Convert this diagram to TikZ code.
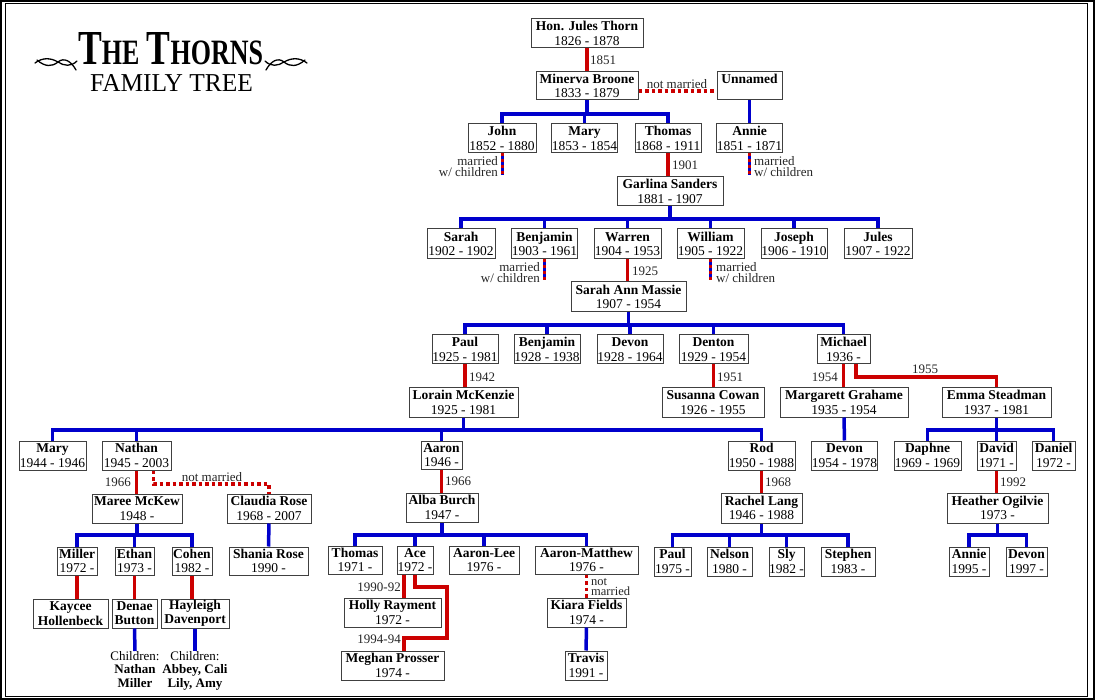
\documentclass[tikz,border=0pt]{standalone}
\usepackage{fontspec}
\setmainfont{Liberation Serif}
\usepackage{graphicx}
\definecolor{tblue}{HTML}{0000CC}
\definecolor{tred}{HTML}{CC0000}
\tikzset{
 pbox/.style={draw=black!75, line width=1pt, fill=white, inner sep=0pt, align=center, font=\fontsize{13.5}{14.3}\selectfont},
 bl/.style={draw=tblue, line width=3.5pt, line join=miter},
 rl/.style={draw=tred, line width=3.5pt, line join=miter},
 nm/.style={draw=tred, line width=3.5pt, dash pattern=on 3.5pt off 3pt},
 mwc/.style={draw=tblue, line width=3pt, postaction={draw=tred, dash pattern=on 3pt off 3pt}},
 lbl/.style={inner sep=0pt, align=center, font=\fontsize{13}{11}\selectfont, text=black!85},
 note/.style={anchor=north, inner sep=0pt, align=center, font=\fontsize{13}{13.5}\selectfont},
 flour/.style={line width=1.3pt, line cap=round},
}
\newcommand\persbox[6]{\node[pbox, minimum width={#4-#2}, minimum height={#5-#3}] (#1) at ({(#2+#4)/2},{(#3+#5)/2}) {#6};}
\newcommand\flourpath{%
 \draw[flour] (35,63) .. controls (43,57) and (51,58) .. (58,62) .. controls (64,66) and (71,67) .. (77,61);
 \draw[flour] (37,60) .. controls (45,67) and (52,67) .. (58,62) .. controls (64,57) and (71,61) .. (76,70);
}
\begin{document}
\begin{tikzpicture}[x=1pt,y=-1pt]
\useasboundingbox (0,0) rectangle (1095,700);
\fill[white] (0,0) rectangle (1095,700);
\draw[line width=2pt] (1,1) rectangle (1094,699);
\draw[line width=1.2pt] (5.3,3.8) rectangle (1087.5,696.5);

% title
\node[inner sep=0pt, anchor=base] (title1) at (170.5,65) {\resizebox{185pt}{32pt}{\bfseries\fontsize{48}{48}\selectfont T\fontsize{35}{35}\selectfont HE\fontsize{40}{40}\selectfont\ \fontsize{48}{48}\selectfont T\fontsize{35}{35}\selectfont HORNS}};
\node[inner sep=0pt, anchor=base] (title2) at (171.5,92) {\resizebox{163pt}{17pt}{\fontsize{26}{26}\selectfont FAMILY TREE}};
\flourpath
\begin{scope}[shift={(342,0)},xscale=-1]
\flourpath
\end{scope}

% people
\persbox{jules}{531}{19}{643}{48}{\textbf{Hon. Jules Thorn}\\1826 - 1878}
\persbox{minerva}{536}{72}{638}{100}{\textbf{Minerva Broone}\\1833 - 1879}
\persbox{unnamed}{717}{72}{782}{100}{\textbf{Unnamed}\\\phantom{1}}
\persbox{john}{468}{124}{536}{153}{\textbf{John}\\1852 - 1880}
\persbox{mary1}{552}{124}{617}{153}{\textbf{Mary}\\1853 - 1854}
\persbox{thomas}{635}{124}{701}{153}{\textbf{Thomas}\\1868 - 1911}
\persbox{annie1}{717}{124}{782}{153}{\textbf{Annie}\\1851 - 1871}
\persbox{garlina}{617}{177}{723}{206}{\textbf{Garlina Sanders}\\1881 - 1907}
\persbox{sarah}{427}{229}{495}{259}{\textbf{Sarah}\\1902 - 1902}
\persbox{benjamin1}{512}{229}{577}{259}{\textbf{Benjamin}\\1903 - 1961}
\persbox{warren}{594}{229}{661}{259}{\textbf{Warren}\\1904 - 1953}
\persbox{william}{677}{229}{744}{259}{\textbf{William}\\1905 - 1922}
\persbox{joseph}{761}{229}{827}{259}{\textbf{Joseph}\\1906 - 1910}
\persbox{jules2}{844}{229}{912}{259}{\textbf{Jules}\\1907 - 1922}
\persbox{sarahann}{571}{282}{686}{312}{\textbf{Sarah Ann Massie}\\1907 - 1954}
\persbox{paul1}{432}{335}{498}{364}{\textbf{Paul}\\1925 - 1981}
\persbox{benjamin2}{514}{335}{580}{364}{\textbf{Benjamin}\\1928 - 1938}
\persbox{devon1}{597}{335}{663}{364}{\textbf{Devon}\\1928 - 1964}
\persbox{denton}{679}{335}{748}{364}{\textbf{Denton}\\1929 - 1954}
\persbox{michael}{817}{335}{870}{364}{\textbf{Michael}\\1936 -}
\persbox{lorain}{409}{388}{518}{417}{\textbf{Lorain McKenzie}\\1925 - 1981}
\persbox{susanna}{662}{388}{764}{417}{\textbf{Susanna Cowan}\\1926 - 1955}
\persbox{margarett}{780}{388}{908}{417}{\textbf{Margarett Grahame}\\1935 - 1954}
\persbox{emma}{942}{388}{1051}{417}{\textbf{Emma Steadman}\\1937 - 1981}
\persbox{mary2}{19}{441}{86}{470}{\textbf{Mary}\\1944 - 1946}
\persbox{nathan}{102}{441}{171}{470}{\textbf{Nathan}\\1945 - 2003}
\persbox{aaron}{421}{441}{462}{469}{\textbf{Aaron}\\1946 -}
\persbox{rod}{728}{441}{795}{470}{\textbf{Rod}\\1950 - 1988}
\persbox{devon2}{812}{441}{877}{470}{\textbf{Devon}\\1954 - 1978}
\persbox{daphne}{894}{441}{961}{470}{\textbf{Daphne}\\1969 - 1969}
\persbox{david}{977}{441}{1016}{470}{\textbf{David}\\1971 -}
\persbox{daniel}{1032}{441}{1075}{470}{\textbf{Daniel}\\1972 -}
\persbox{maree}{92}{494}{182}{523}{\textbf{Maree McKew}\\1948 -}
\persbox{claudia}{227}{494}{311}{523}{\textbf{Claudia Rose}\\1968 - 2007}
\persbox{alba}{406}{493}{478}{522}{\textbf{Alba Burch}\\1947 -}
\persbox{rachel}{721}{493}{802}{523}{\textbf{Rachel Lang}\\1946 - 1988}
\persbox{heather}{947}{493}{1048}{523}{\textbf{Heather Ogilvie}\\1973 -}
\persbox{miller}{57}{547}{97}{575}{\textbf{Miller}\\1972 -}
\persbox{ethan}{115}{547}{154}{575}{\textbf{Ethan}\\1973 -}
\persbox{cohen}{172}{547}{212}{575}{\textbf{Cohen}\\1982 -}
\persbox{shania}{229}{547}{308}{575}{\textbf{Shania Rose}\\1990 -}
\persbox{thomas2}{328}{546}{382}{574}{\textbf{Thomas}\\1971 -}
\persbox{ace}{397}{546}{433}{574}{\textbf{Ace}\\1972 -}
\persbox{aaronlee}{449}{546}{519}{574}{\textbf{Aaron-Lee}\\1976 -}
\persbox{aaronm}{535}{546}{638}{574}{\textbf{Aaron-Matthew}\\1976 -}
\persbox{paul2}{654}{547}{691}{576}{\textbf{Paul}\\1975 -}
\persbox{nelson}{707}{547}{752}{576}{\textbf{Nelson}\\1980 -}
\persbox{sly}{769}{547}{804}{576}{\textbf{Sly}\\1982 -}
\persbox{stephen}{821}{547}{875}{576}{\textbf{Stephen}\\1983 -}
\persbox{annie2}{949}{547}{989}{576}{\textbf{Annie}\\1995 -}
\persbox{devon3}{1006}{547}{1047}{576}{\textbf{Devon}\\1997 -}
\persbox{kaycee}{33}{599}{108}{628}{\textbf{Kaycee}\\\textbf{Hollenbeck}}
\persbox{denae}{112}{599}{157}{628}{\textbf{Denae}\\\textbf{Button}}
\persbox{hayleigh}{161}{599}{229}{628}{\textbf{Hayleigh}\\\textbf{Davenport}}
\persbox{holly}{344}{598}{441}{627}{\textbf{Holly Rayment}\\1972 -}
\persbox{kiara}{547}{598}{626}{627}{\textbf{Kiara Fields}\\1974 -}
\persbox{meghan}{341}{651}{444}{680}{\textbf{Meghan Prosser}\\1974 -}
\persbox{travis}{565}{651}{607}{680}{\textbf{Travis}\\1991 -}

\node[note] (dnote) at (135,651) {Children:\\\textbf{Nathan}\\\textbf{Miller}};
\node[note] (hnote) at (195,651) {Children:\\\textbf{Abbey, Cali}\\\textbf{Lily, Amy}};

% bar levels
\coordinate (b1) at (0,114);
\coordinate (b2) at (0,219);
\coordinate (b3) at (0,325);
\coordinate (b4) at (0,430);
\coordinate (b6) at (0,535);
\coordinate (my) at (0,377);
\coordinate (nmy) at (0,484);

% blue: parents to children
\draw[bl] (minerva.south) -- (minerva.south |- b1);
\draw[bl] (john.north) |- (thomas.north |- b1) -- (thomas.north);
\draw[bl] (mary1.north) -- (mary1.north |- b1);
\draw[bl] (unnamed.south) -- (annie1.north);

\draw[bl] (garlina.south) -- (garlina.south |- b2);
\draw[bl] (sarah.north) |- (jules2.north |- b2) -- (jules2.north);
\foreach \n in {benjamin1,warren,william,joseph} \draw[bl] (\n.north) -- (\n.north |- b2);

\draw[bl] (sarahann.south) -- (sarahann.south |- b3);
\draw[bl] (paul1.north) |- (michael.north |- b3) -- (michael.north);
\foreach \n in {benjamin2,devon1,denton} \draw[bl] (\n.north) -- (\n.north |- b3);

\draw[bl] (lorain.south) -- (lorain.south |- b4);
\draw[bl] (mary2.north) |- (rod.north |- b4) -- (rod.north);
\foreach \n in {nathan,aaron} \draw[bl] (\n.north) -- (\n.north |- b4);

\draw[bl] (margarett.south) -- (devon2.north);
\draw[bl] (emma.south) -- (emma.south |- b4);
\draw[bl] (daphne.north) |- (daniel.north |- b4) -- (daniel.north);
\draw[bl] (david.north) -- (david.north |- b4);

\draw[bl] (maree.south) -- (maree.south |- b6);
\draw[bl] (miller.north) |- (cohen.north |- b6) -- (cohen.north);
\draw[bl] (ethan.north) -- (ethan.north |- b6);
\draw[bl] (claudia.south) -- (shania.north);

\draw[bl] (alba.south) -- (alba.south |- b6);
\draw[bl] (thomas2.north) |- (aaronm.north |- b6) -- (aaronm.north);
\foreach \n in {ace,aaronlee} \draw[bl] (\n.north) -- (\n.north |- b6);

\draw[bl] (rachel.south) -- (rachel.south |- b6);
\draw[bl] (paul2.north) |- (stephen.north |- b6) -- (stephen.north);
\foreach \n in {nelson,sly} \draw[bl] (\n.north) -- (\n.north |- b6);

\draw[bl] (heather.south) -- (heather.south |- b6);
\draw[bl] (annie2.north) |- (devon3.north |- b6) -- (devon3.north);

\draw[bl] (kiara.south) -- (travis.north);
\draw[bl] (denae.south) -- (dnote.north);
\draw[bl] (hayleigh.south) -- (hnote.north);

% red: marriages
\draw[rl] (jules.south) -- (minerva.north);
\draw[rl] (thomas.south) -- (thomas.south |- garlina.north);
\draw[rl] (warren.south) -- (warren.south |- sarahann.north);
\draw[rl] (paul1.south) -- (paul1.south |- lorain.north);
\draw[rl] (denton.south) -- (denton.south |- susanna.north);
\draw[rl] (michael.south) -- (michael.south |- margarett.north);
\draw[rl] ([xshift=12.5pt]michael.south) |- (emma.north |- my) -- (emma.north);
\draw[rl] (nathan.south) -- (nathan.south |- maree.north);
\draw[rl] (aaron.south) -- (aaron.south |- alba.north);
\draw[rl] (rod.south) -- (rod.south |- rachel.north);
\draw[rl] (david.south) -- (david.south |- heather.north);
\draw[rl] (miller.south) -- (miller.south |- kaycee.north);
\draw[rl] (ethan.south) -- (ethan.south |- denae.north);
\draw[rl] (cohen.south) -- (cohen.south |- hayleigh.north);
\coordinate (acel) at ([xshift=-11pt]ace.south);
\draw[rl] (acel) -- (acel |- holly.north);
\coordinate (ac1) at (447,587);
\coordinate (ac2) at (447,638);
\draw[rl] (ace.south) |- (ac1) -- (ac2) -| (acel |- meghan.north);

% dotted: not married
\draw[nm] ([yshift=-5pt]minerva.east) -- ([yshift=-5pt]unnamed.west);
\draw[nm] ([xshift=17pt]nathan.south) |- (claudia.north |- nmy) -- (claudia.north);
\draw[nm] (aaronm.south) -- (aaronm.south |- kiara.north);

% married with children
\coordinate (e1) at ([yshift=-22pt]john.south);
\coordinate (e2) at ([yshift=-22pt]annie1.south);
\coordinate (e3) at ([yshift=-21pt]benjamin1.south);
\coordinate (e4) at ([yshift=-21pt]william.south);
\draw[mwc] (john.south) -- (e1);
\draw[mwc] (annie1.south) -- (e2);
\draw[mwc] (benjamin1.south) -- (e3);
\draw[mwc] (william.south) -- (e4);

% labels
\node[lbl, anchor=west] (l1) at (590,60) {1851};
\node[lbl] (l2) at (677,84) {not married};
\node[lbl, anchor=east, align=right] (l3) at (498,167) {married\\w/ children};
\node[lbl, anchor=west, align=left] (l4) at (754,167) {married\\w/ children};
\node[lbl, anchor=west] (l5) at (672,165) {1901};
\node[lbl, anchor=east, align=right] (l6) at (540,273) {married\\w/ children};
\node[lbl, anchor=west, align=left] (l7) at (716,273) {married\\w/ children};
\node[lbl, anchor=west] (l8) at (632,271) {1925};
\node[lbl, anchor=west] (l9) at (469,377) {1942};
\node[lbl, anchor=west] (l10) at (717,377) {1951};
\node[lbl, anchor=east] (l11) at (838,377) {1954};
\node[lbl] (l12) at (925,369) {1955};
\node[lbl, anchor=east] (l13) at (131,482) {1966};
\node[lbl] (l14) at (212,477) {not married};
\node[lbl, anchor=west] (l15) at (445,481) {1966};
\node[lbl, anchor=west] (l16) at (765,482) {1968};
\node[lbl, anchor=west] (l17) at (1000,482) {1992};
\node[lbl, anchor=west, align=left, font=\fontsize{12.5}{10.5}\selectfont] (l18) at (591,587) {not\\married};
\node[lbl, anchor=east] (l19) at (401,587) {1990-92};
\node[lbl, anchor=east] (l20) at (401,639) {1994-94};
\end{tikzpicture}
\end{document}
